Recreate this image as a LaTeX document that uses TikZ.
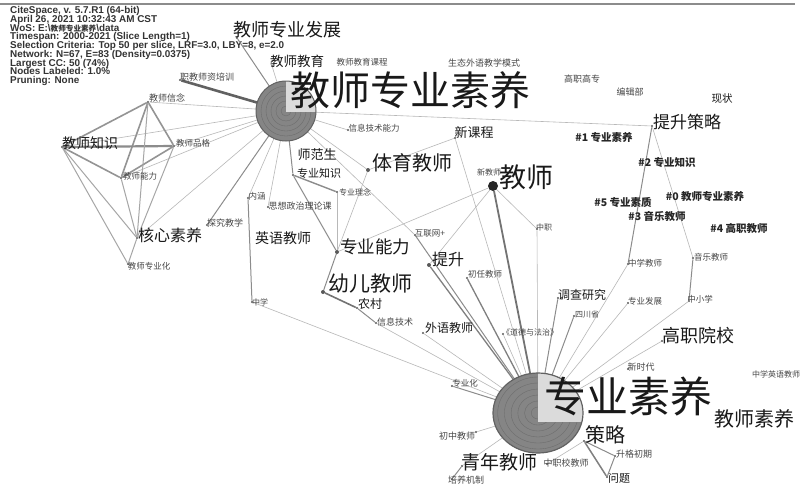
\documentclass[tikz,border=0pt]{standalone}
\usepackage{fontspec}
\setmainfont{Liberation Sans}
\newfontfamily\cjk{Noto Sans CJK SC}
\newcommand\fs[1]{\fontsize{#1}{#1}\selectfont\cjk}
\begin{document}
\begin{tikzpicture}[x=1pt,y=-1pt,
  dot/.style={circle,fill=black!65,inner sep=0pt,minimum size=2.4pt},
  lab/.style={inner sep=0pt,text=black!90},
  sm/.style={inner sep=0pt,text=black!72},
  clu/.style={inner sep=0pt,text=black!85,font=\fs{10.5}\bfseries},
  hdrline/.style={anchor=base west,inner sep=0pt,text=black!80,font=\fontsize{9.9}{9.9}\selectfont\bfseries},
  ethin/.style={draw=black!28,line width=0.6pt},
  emid/.style={draw=black!45,line width=1pt},
  ethick/.style={draw=black!50,line width=1.7pt},
  ring/.style={draw=black!58,line width=0.35pt},
]
\useasboundingbox (0,0) rectangle (802,488);
\clip (0,0) rectangle (802,488);
\fill[white] (0,0) rectangle (802,488);
\draw[black!45,line width=1.3pt] (0,4) -- (795,4);

% ---------- header ----------
\node[hdrline] (h1) at (10,13.5) {CiteSpace, v. 5.7.R1 (64-bit)};
\node[hdrline] (h2) at (10,22.2) {April 26, 2021 10:32:43 AM CST};
\node[hdrline] (h3) at (10,31) {WoS: E:\textbackslash{\cjk\fontsize{7.6}{7.6}\selectfont 教师专业素养}\textbackslash data};
\node[hdrline] (h4) at (10,39.7) {Timespan: 2000-2021 (Slice Length=1)};
\node[hdrline] (h5) at (10,48.5) {Selection Criteria: Top 50 per slice, LRF=3.0, LBY=8, e=2.0};
\node[hdrline] (h6) at (10,57.2) {Network: N=67, E=83 (Density=0.0375)};
\node[hdrline] (h7) at (10,66) {Largest CC: 50 (74\%)};
\node[hdrline] (h8) at (10,74.7) {Nodes Labeled: 1.0\%};
\node[hdrline] (h9) at (10,83.5) {Pruning: None};

% ---------- node positions ----------
\coordinate (T) at (286,111);
\coordinate (B) at (538,413);
\node[dot] (dfz) at (237,38) {};
\node[dot] (djy) at (272,66) {};
\node[dot] (dzjpx) at (180,80) {};
\node[dot] (dxn) at (148,102) {};
\node[dot] (dzs) at (62,147) {};
\node[dot] (dpg) at (174,146) {};
\node[dot] (dnl) at (121,178) {};
\node[dot] (dhx) at (137,238) {};
\node[dot] (dzyh) at (128,264) {};
\node[dot] (dtjjx) at (207,225) {};
\node[dot] (dnh) at (248,198) {};
\node[dot] (dzx) at (252,302) {};
\node[dot] (dzyzs) at (293,175) {};
\node[dot] (dzyln) at (337,192) {};
\node[dot] (dszzz) at (268,207) {};
\node[dot] (dxxjsnl) at (348,130) {};
\node[dot] (dxkc) at (455,138) {};
\node[dot,minimum size=4pt] (dtyjs) at (368,170) {};
\node[dot,minimum size=4pt] (dzynl) at (337,252) {};
\node[dot,minimum size=4pt] (dyejs) at (323,292) {};
\node[dot] (dnc) at (357,308) {};
\node[dot] (dxxjs) at (376,323) {};
\node[dot] (dhlw) at (415,235) {};
\node[dot,minimum size=4pt] (dts) at (429,265) {};
\node[dot] (dcrjs) at (467,278) {};
\node[circle,fill=black!85,inner sep=0pt,minimum size=10pt] (djs) at (493,186) {};
\node[dot] (dzz) at (537,229) {};
\node[dot] (dtscl) at (652,126) {};
\node[dot] (dzxjs) at (628,264) {};
\node[dot] (dyyjs) at (693,258) {};
\node[dot] (dzxx) at (689,301) {};
\node[dot] (ddcyj) at (558,298) {};
\node[dot] (dscs) at (574,316) {};
\node[dot] (dzyfz) at (628,303) {};
\node[dot] (dgzyx) at (662,341) {};
\node[dot] (dxsd) at (628,369) {};
\node[dot] (dcl) at (584,441) {};
\node[dot] (dsgcq) at (615,456) {};
\node[dot] (dwt) at (607,477) {};
\node[dot] (dzzxjs) at (547,464) {};
\node[dot] (dqnjs) at (462,466) {};
\node[dot] (dpyjz) at (452,479) {};
\node[dot] (dczjs) at (476,432) {};
\node[dot] (dzyh2) at (452,386) {};
\node[dot] (dwyjs) at (423,333) {};
\node[dot] (dddfz) at (503,334) {};

% ---------- edges ----------
\foreach \n in {dxn,dzs,dpg,dnl,dhx,dnh,dszzz,dtyjs,dxxjsnl,dhlw,dtscl}
  \draw[ethin] (T) -- (\n);
\draw[emid] (T) -- (dfz);
\draw[ethin] (T) -- (djy);
\draw[ethick,draw=black!62,line width=2.6pt] (T) -- (dzjpx);
\draw[emid] (T) -- (dtjjx);
\draw[emid] (T) -- (dzyzs);
% left cluster
\draw[ethick,draw=black!42,line width=1.6pt] (dxn) -- (dzs);
\draw[ethick,draw=black!42,line width=1.6pt] (dxn) -- (dpg);
\draw[ethick,draw=black!42,line width=1.6pt] (dxn) -- (dnl);
\draw[ethick,draw=black!45,line width=2.2pt] (dzs) -- (dpg);
\draw[ethick,draw=black!42,line width=1.6pt] (dzs) -- (dnl);
\draw[ethick,draw=black!42,line width=1.6pt] (dpg) -- (dnl);
\draw[emid,draw=black!35] (dxn) -- (dhx);
\draw[emid,draw=black!35] (dpg) -- (dhx);
\draw[emid,draw=black!35] (dzs) -- (dhx);
\draw[emid,draw=black!35] (dzs) -- (dzyh);
\draw[emid,draw=black!35] (dnl) -- (dhx);
\draw[emid,draw=black!35] (dhx) -- (dzyh);
% middle
\draw[emid] (dnh) -- (dzx);
\draw[ethin] (dzx) -- (B);
\draw[ethick,draw=black!45,line width=1.4pt] (dzyzs) -- (dzyln);
\draw[emid] (dzyzs) -- (dzynl);
\draw[ethin] (dzyln) -- (dzynl);
\draw[ethin] (dtyjs) -- (dzynl);
\draw[ethin] (dxkc) -- (dtyjs);
\draw[emid] (dzynl) -- (dyejs);
\draw[ethin] (dzynl) -- (djs);
\draw[ethick,draw=black!55,line width=1.6pt] (dyejs) -- (dnc);
\draw[emid] (dnc) -- (dxxjs);
\draw[ethin] (dxxjs) -- (B);
\draw[emid] (dhlw) -- (B);
\draw[ethin] (dts) -- (djs);
\draw[emid,draw=black!50,line width=1.3pt] (dts) -- (B);
\draw[emid,draw=black!50,line width=1.3pt] (dcrjs) -- (B);
\draw[ethick,draw=black!55,line width=1.8pt] (djs) -- (B);
\draw[ethin] (djs) -- (dzz);
\draw[ethin] (dzz) -- (B);
\draw[ethin] (dxkc) -- (B);
% bottom node
\draw[ethin] (dwyjs) -- (B);
\draw[emid] (dzyh2) -- (B);
\draw[ethin] (dczjs) -- (B);
\draw[ethin] (dqnjs) -- (B);
\draw[emid] (dqnjs) -- (dpyjz);
\draw[ethin] (dddfz) -- (B);
\draw[emid] (ddcyj) -- (B);
\draw[emid] (dscs) -- (B);
\draw[ethin] (dzyfz) -- (B);
\draw[ethin] (dzxjs) -- (B);
\draw[emid] (dtscl) -- (dzxjs);
\draw[ethin] (dtscl) -- (dyyjs);
\draw[emid] (dyyjs) -- (dzxx);
\draw[ethin] (dzxx) -- (B);
\draw[ethin] (dgzyx) -- (B);
\draw[ethick,draw=black!50,line width=1.5pt] (dcl) -- (dwt);
\draw[emid] (dcl) -- (dsgcq);
\draw[emid] (dsgcq) -- (dwt);
\draw[ethin] (dcl) -- (dzzxjs);

% ---------- big nodes ----------
\fill[black!48] (T) circle (30pt);
\foreach \r in {5,10,15,20,25} \draw[ring] (T) circle (\r pt);
\begin{scope}
  \clip (T) circle (30pt);
  \fill[black!14] (286,81) rectangle (317,112);
\end{scope}
\draw[black!62,line width=1pt] (T) circle (30pt);

\fill[black!48] (B) ellipse [x radius=45pt,y radius=40pt];
\foreach \r in {6,12,18,24,30,36} \draw[ring] (B) ellipse [x radius=\r pt*1.12,y radius=\r pt];
\begin{scope}
  \clip (B) ellipse [x radius=45pt,y radius=40pt];
  \fill[black!14] (538,372) rectangle (584,422);
\end{scope}
\draw[black!62,line width=1.2pt] (B) ellipse [x radius=45pt,y radius=40pt];

% ---------- labels ----------
\node[lab,font=\fs{40}] (Ltjs) at (410,90) {教师专业素养};
\node[lab,font=\fs{18}] (Lfz) at (287,30) {教师专业发展};
\node[lab,font=\fs{13.5}] (Ljy) at (297,61) {教师教育};
\node[sm,font=\fs{8.5}] (Ljykc) at (362,62) {教师教育课程};
\node[sm,font=\fs{9}] (Lstwy) at (484,63) {生态外语教学模式};
\node[sm,font=\fs{9}] (Lzjpx) at (207,77) {职教师资培训};
\node[sm,font=\fs{9}] (Lxn) at (167,98) {教师信念};
\node[lab,font=\fs{14}] (Lzs) at (90,143) {教师知识};
\node[sm,font=\fs{8.5}] (Lpg) at (193,143) {教师品格};
\node[sm,font=\fs{8.5}] (Lnl) at (140,176) {教师能力};
\node[lab,font=\fs{16}] (Lhx) at (170,235) {核心素养};
\node[sm,font=\fs{8.5}] (Lzyh) at (149,266) {教师专业化};
\node[sm,font=\fs{9}] (Ltjjx) at (225,223) {探究教学};
\node[sm,font=\fs{8.5}] (Lnh) at (257,196) {内涵};
\node[lab,font=\fs{14}] (Lyyjs) at (283,238) {英语教师};
\node[sm,font=\fs{8}] (Lzx) at (260,302) {中学};
\node[lab,font=\fs{13}] (Lsfs) at (317,155) {师范生};
\node[lab,font=\fs{11}] (Lzyzs) at (319,173) {专业知识};
\node[sm,font=\fs{8}] (Lzyln) at (355,192) {专业理念};
\node[sm,font=\fs{9}] (Lszzz) at (300,206) {思想政治理论课};
\node[sm,font=\fs{8.5}] (Lxxjsnl) at (374,128) {信息技术能力};
\node[lab,font=\fs{13}] (Lxkc) at (474,133) {新课程};
\node[lab,font=\fs{20}] (Ltyjs) at (412,163) {体育教师};
\node[lab,font=\fs{17.5}] (Lzynl) at (375,247) {专业能力};
\node[lab,font=\fs{21}] (Lyejs) at (370,284) {幼儿教师};
\node[lab,font=\fs{12}] (Lnc) at (370,304) {农村};
\node[sm,font=\fs{9}] (Lxxjs) at (395,322) {信息技术};
\node[sm,font=\fs{8.5}] (Lhlw) at (430,233) {互联网+};
\node[lab,font=\fs{16}] (Lts) at (448,259) {提升};
\node[sm,font=\fs{8.5}] (Lcrjs) at (485,274) {初任教师};
\node[lab,font=\fs{27}] (Ljs) at (526,177) {教师};
\node[sm,font=\fs{8}] (Lxjs) at (489,172) {新教师};
\node[sm,font=\fs{8}] (Lzz) at (544,227) {中职};
\node[sm,font=\fs{9}] (Lgzgz) at (582,79) {高职高专};
\node[sm,font=\fs{9}] (Lbjb) at (630,92) {编辑部};
\node[lab,font=\fs{10.5}] (Lxz) at (722,99) {现状};
\node[lab,font=\fs{17}] (Ltscl) at (687,122) {提升策略};
\node[clu] (Lc1) at (604,138) {\#1 专业素养};
\node[clu] (Lc2) at (667,163) {\#2 专业知识};
\node[clu] (Lc0) at (705,197) {\#0 教师专业素养};
\node[clu] (Lc5) at (623,202) {\#5 专业素质};
\node[clu] (Lc3) at (657,216) {\#3 音乐教师};
\node[clu] (Lc4) at (739,228) {\#4 高职教师};
\node[sm,font=\fs{8.5}] (Lzxjs) at (645,263) {中学教师};
\node[sm,font=\fs{8.5}] (Lyyjs2) at (711,257) {音乐教师};
\node[sm,font=\fs{8.5}] (Lzxx) at (700,299) {中小学};
\node[lab,font=\fs{12}] (Ldcyj) at (582,295) {调查研究};
\node[sm,font=\fs{8}] (Lscs) at (587,314) {四川省};
\node[sm,font=\fs{8.5}] (Lzyfz) at (645,301) {专业发展};
\node[lab,font=\fs{18}] (Lgzyx) at (698,336) {高职院校};
\node[sm,font=\fs{9}] (Lxsd) at (641,367) {新时代};
\node[sm,font=\fs{8},anchor=west] (Lzxyy) at (752,374) {中学英语教师};
\node[lab,font=\fs{42}] (Lzysy) at (628,396) {专业素养};
\node[lab,font=\fs{20}] (Ljssy) at (754,419) {教师素养};
\node[lab,font=\fs{20}] (Lcl) at (605,435) {策略};
\node[sm,font=\fs{9}] (Lsgcq) at (634,454) {升格初期};
\node[lab,font=\fs{11}] (Lwt) at (619,478) {问题};
\node[sm,font=\fs{9}] (Lzzxjs) at (566,463) {中职校教师};
\node[lab,font=\fs{19}] (Lqnjs) at (499,462) {青年教师};
\node[sm,font=\fs{9}] (Lpyjz) at (466,480) {培养机制};
\node[sm,font=\fs{9}] (Lczjs) at (457,436) {初中教师};
\node[sm,font=\fs{8.5}] (Lzyh2) at (465,383) {专业化};
\node[lab,font=\fs{12}] (Lwyjs) at (449,328) {外语教师};
\node[sm,font=\fs{8}] (Lddfz) at (530,332) {《道德与法治》};
\end{tikzpicture}
\end{document}
